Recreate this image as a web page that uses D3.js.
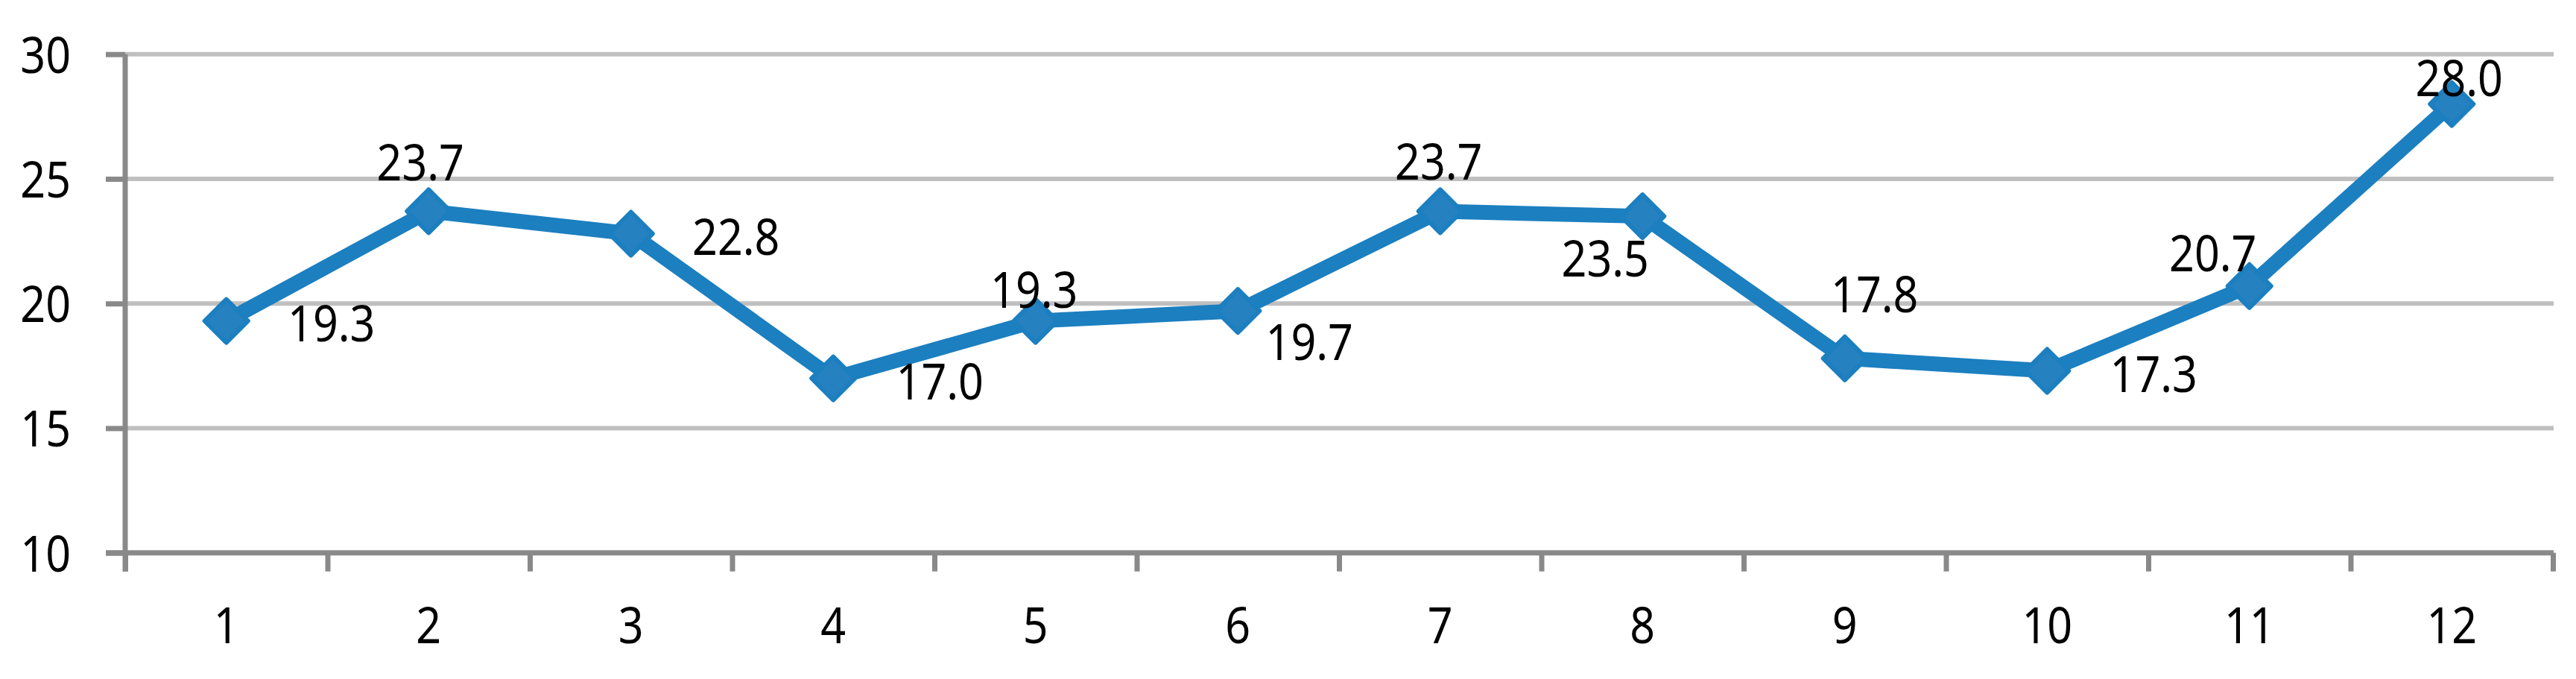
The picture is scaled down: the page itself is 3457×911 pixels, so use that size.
<!DOCTYPE html>
<html>
<head>
<meta charset="utf-8">
<style>
body { margin: 0; background: #fff; }
svg text { font-family: "Noto Sans", sans-serif; fill: #000; }
</style>
</head>
<body>
<script src="https://cdn.jsdelivr.net/npm/d3@7/dist/d3.min.js"></script>
<script>
// data
const months = ['1', '2', '3', '4', '5', '6', '7', '8', '9', '10', '11', '12'];
const values = [19.3, 23.7, 22.8, 17.0, 19.3, 19.7, 23.7, 23.5, 17.8, 17.3, 20.7, 28.0];
const yTicks = [10, 15, 20, 25, 30];

// where each value label sits relative to its marker (label centre dx, baseline dy)
const labelNudge = [
  [141, 27], [-11, -41], [141, 28], [143, 28], [-2, -18], [96, 66],
  [-2, -42], [-50, 81], [40, -62], [143, 28], [-49, -20], [10, -11]
];

const W = 3457, H = 911;
const plotLeft = 168, plotRight = 3426, plotTop = 72.7, plotBottom = 741.7;
const fontSize = 68, squeeze = 0.87;
const lineColor = '#1b7fc0', gridColor = '#bfbfbf', axisColor = '#898989';

const svg = d3.select('body').append('svg')
  .attr('width', W)
  .attr('height', H);

const x = d3.scaleLinear().domain([0, months.length]).range([plotLeft, plotRight]);
const xBand = d3.scaleBand().domain(months).range([plotLeft, plotRight]);
const y = d3.scaleLinear().domain([10, 30]).range([plotBottom, plotTop]);

// gridlines
svg.append('g')
  .selectAll('line')
  .data(yTicks.filter(d => d > 10))
  .enter().append('line')
  .attr('x1', plotLeft).attr('x2', plotRight + 1)
  .attr('y1', d => y(d)).attr('y2', d => y(d))
  .attr('stroke', gridColor)
  .attr('stroke-width', 6);

// y axis
const yAxis = svg.append('g')
  .attr('transform', `translate(${plotLeft},0)`)
  .call(d3.axisLeft(y).tickValues(yTicks).tickSize(26).tickPadding(47).tickSizeOuter(0));
yAxis.select('.domain').remove();
yAxis.selectAll('line').attr('stroke', axisColor).attr('stroke-width', 7);
yAxis.selectAll('text')
  .attr('font-size', fontSize)
  .attr('x', -73 / squeeze)
  .attr('dy', '0.36em')
  .attr('transform', `scale(${squeeze},1)`);

// x axis: ticks at month boundaries, labels at centres
const xTickAxis = svg.append('g')
  .attr('transform', `translate(0,${plotBottom})`)
  .call(d3.axisBottom(x).tickValues(d3.range(0, months.length + 1)).tickSize(25).tickFormat('').tickSizeOuter(0));
xTickAxis.select('.domain').remove();
xTickAxis.selectAll('line').attr('stroke', axisColor).attr('stroke-width', 7);

const xLabelAxis = svg.append('g')
  .attr('transform', `translate(0,${plotBottom})`)
  .call(d3.axisBottom(xBand).tickSize(0));
xLabelAxis.select('.domain').remove();
xLabelAxis.selectAll('text')
  .attr('font-size', fontSize)
  .attr('y', 121)
  .attr('dy', 0)
  .attr('transform', `scale(${squeeze},1)`)
  .attr('x', 0);

// axis lines
svg.append('line')
  .attr('x1', plotLeft - 26).attr('x2', plotRight + 1)
  .attr('y1', plotBottom).attr('y2', plotBottom)
  .attr('stroke', axisColor).attr('stroke-width', 7);
svg.append('line')
  .attr('x1', plotLeft).attr('x2', plotLeft)
  .attr('y1', plotTop).attr('y2', plotBottom + 25)
  .attr('stroke', axisColor).attr('stroke-width', 7);

// series line
const line = d3.line()
  .x((d, i) => x(i + 0.5))
  .y(d => y(d));

svg.append('path')
  .datum(values)
  .attr('fill', 'none')
  .attr('stroke', lineColor)
  .attr('stroke-width', 20)
  .attr('stroke-linejoin', 'round')
  .attr('d', line);

// diamond markers
svg.append('g')
  .selectAll('path')
  .data(values)
  .enter().append('path')
  .attr('d', d3.symbol().type(d3.symbolSquare).size(1681))
  .attr('transform', (d, i) => `translate(${x(i + 0.5)},${y(d)}) rotate(45)`)
  .attr('fill', '#2681c0')
  .attr('stroke', lineColor)
  .attr('stroke-width', 6)
  .attr('stroke-linejoin', 'round');

// value labels
svg.append('g')
  .selectAll('text')
  .data(values)
  .enter().append('text')
  .attr('font-size', fontSize)
  .attr('text-anchor', 'middle')
  .attr('transform', (d, i) => `translate(${x(i + 0.5) + labelNudge[i][0]},${y(d) + labelNudge[i][1]}) scale(${squeeze},1)`)
  .text(d => d.toFixed(1));
</script>
</body>
</html>
